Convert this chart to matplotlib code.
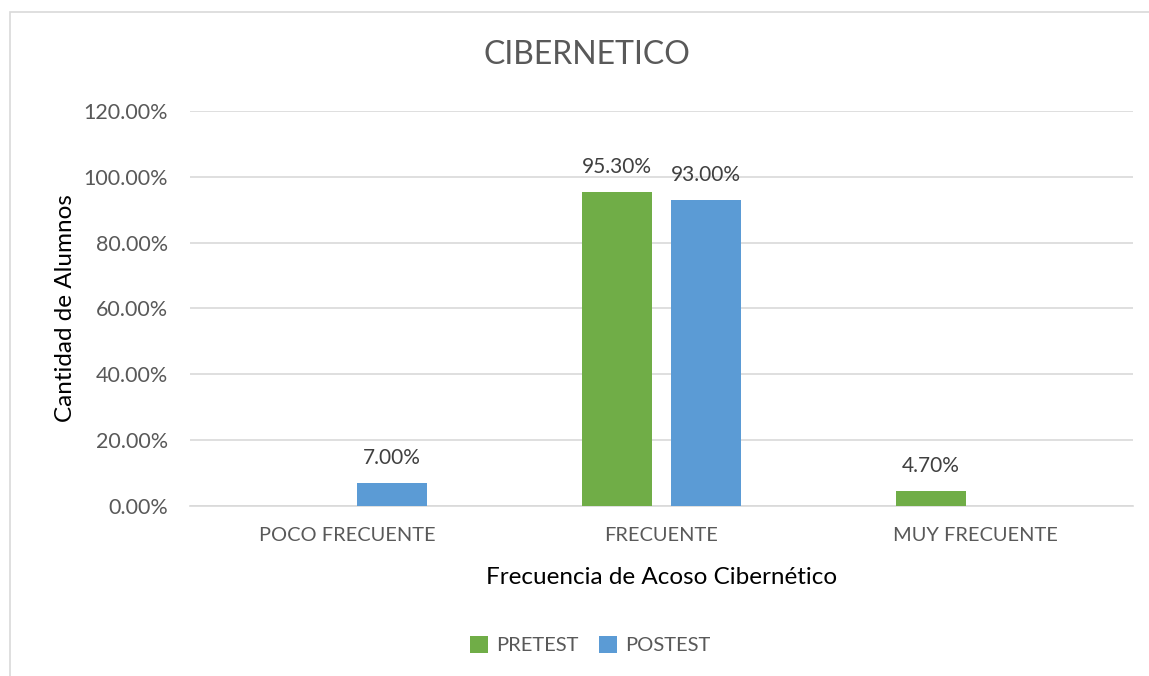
import numpy as np
import matplotlib
matplotlib.use('Agg')
from matplotlib import pyplot as plt
from matplotlib.patches import Rectangle
from matplotlib.ticker import PercentFormatter

categories = ['POCO FRECUENTE', 'FRECUENTE', 'MUY FRECUENTE']
pretest = [np.nan, 0.953, 0.047]
postest = [0.070, 0.930, np.nan]
series_names = ['PRETEST', 'POSTEST']

plt.rcParams['font.family'] = ['Lato', 'DejaVu Sans']

text_color = '#595959'
grid_color = '#D9D9D9'
colors = ['#70AD47', '#5B9BD5']

fig = plt.figure(figsize=(11.49, 6.76), dpi=100)
ax = fig.add_axes([0.1654, 0.2515, 0.8206, 0.5843])

# outer chart frame (cut off on right and bottom like the screenshot)
fig.patches.append(Rectangle((10 / 1149, -0.1), 1.2, 0.1 + (676 - 12) / 676,
                             transform=fig.transFigure, fill=False,
                             edgecolor=grid_color, linewidth=1.2))

x = np.arange(len(categories))
width = 0.223
offset = 0.142
for i, (vals, name) in enumerate(zip([pretest, postest], series_names)):
    pos = x + (offset if i else -offset)
    bars = ax.bar(pos, vals, width, color=colors[i], label=name, zorder=3)
    for b, v in zip(bars, vals):
        if not np.isnan(v):
            ax.text(b.get_x() + b.get_width() / 2, v + 0.045, f'{v * 100:.2f}%',
                    ha='center', va='bottom', fontsize=15, color='#404040')

ax.set_xlim(-0.5, 2.5)
ax.set_ylim(0, 1.2)
ax.set_yticks(np.arange(0, 1.21, 0.2))
ax.yaxis.set_major_formatter(PercentFormatter(1.0, decimals=2))
ax.set_xticks(x, categories)
ax.grid(axis='y', color=grid_color, linewidth=1.2, zorder=0)
for s in ['top', 'right', 'left']:
    ax.spines[s].set_visible(False)
ax.spines['bottom'].set_color(grid_color)
ax.spines['bottom'].set_linewidth(1.2)
ax.tick_params(length=0, colors=text_color)
ax.tick_params(axis='y', pad=16, labelsize=15.5)
ax.tick_params(axis='x', pad=15, labelsize=14.4)

fig.text(587 / 1149, 1 - 55 / 676, 'CIBERNETICO', fontsize=23, color=text_color,
         ha='center', va='center')
ax.set_xlabel('Frecuencia de Acoso Cibernético', fontsize=17.5, color='black')
ax.set_ylabel('Cantidad de Alumnos', fontsize=17.5, color='black')
ax.xaxis.set_label_coords(0.5, -0.154)
ax.yaxis.set_label_coords(-0.121, 0.5)

fig.legend(loc='center', bbox_to_anchor=(590 / 1149, 1 - 645 / 676), ncol=2,
           frameon=False, fontsize=14.5, labelcolor=text_color,
           handlelength=0.9, handleheight=0.9, handletextpad=0.4, columnspacing=1.0)

fig.savefig('out.png', dpi=100)
